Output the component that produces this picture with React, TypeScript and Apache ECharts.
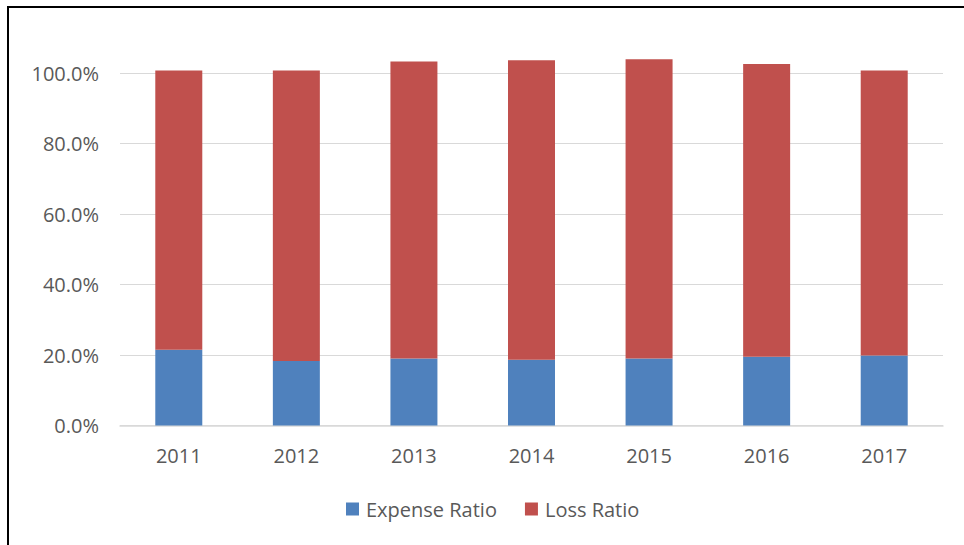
import React, { useEffect, useRef } from "react";
import * as echarts from "echarts";

const years = ["2011", "2012", "2013", "2014", "2015", "2016", "2017"];
const expenseRatio = [21.5, 18.3, 19.0, 18.7, 19.0, 19.5, 19.9];
const lossRatio = [79.3, 82.5, 84.3, 85.0, 85.0, 83.1, 80.9];
const yMin = 0;
const yMax = 110;
const yStep = 20;

export default function App() {
  const ref = useRef<HTMLDivElement>(null);
  useEffect(() => {
    if (!ref.current) return;
    const chart = echarts.init(ref.current, undefined, { renderer: "svg" });
    const font = "'Open Sans', sans-serif";
    chart.setOption({
      animation: false,
      backgroundColor: "#ffffff",
      textStyle: { fontFamily: font },
      graphic: [
        {
          type: "rect",
          shape: { x: 8, y: 7, width: 1000, height: 600 },
          style: { fill: "none", stroke: "#000000", lineWidth: 2 },
          silent: true,
          z: 100,
        },
      ],
      grid: { left: 120, right: 21, top: 38, bottom: 119.5 },
      legend: {
        left: 341,
        top: 494,
        itemWidth: 13,
        itemHeight: 13,
        itemGap: 28,
        icon: "rect",
        textStyle: {
          fontFamily: font,
          fontSize: 20,
          color: "#595959",
          padding: [0, 0, 0, 2],
        },
        data: ["Expense Ratio", "Loss Ratio"],
      },
      xAxis: {
        type: "category",
        data: years,
        axisLine: { show: true, lineStyle: { color: "#d9d9d9", width: 1.5 } },
        axisTick: { show: false },
        axisLabel: {
          fontFamily: font,
          fontSize: 20,
          color: "#595959",
          margin: 20,
        },
      },
      yAxis: {
        type: "value",
        min: yMin,
        max: yMax,
        interval: yStep,
        axisLine: { show: false },
        axisTick: { show: false },
        splitLine: {
          show: true,
          showMaxLine: false,
          lineStyle: { color: "#d9d9d9", width: 1 },
        },
        axisLabel: {
          showMaxLabel: false,
          fontFamily: font,
          fontSize: 20,
          color: "#595959",
          margin: 21,
          formatter: (v: number) => (v > 100 ? "" : v.toFixed(1) + "%"),
        },
      },
      series: [
        {
          name: "Expense Ratio",
          type: "bar",
          stack: "total",
          barWidth: 47,
          data: expenseRatio,
          itemStyle: { color: "#4F81BD" },
        },
        {
          name: "Loss Ratio",
          type: "bar",
          stack: "total",
          barWidth: 47,
          data: lossRatio,
          itemStyle: { color: "#C0504D" },
        },
      ],
    });
    return () => chart.dispose();
  }, []);
  return (
    <div
      ref={ref}
      style={{ position: "fixed", left: 0, top: 0, width: 964, height: 545 }}
    />
  );
}
